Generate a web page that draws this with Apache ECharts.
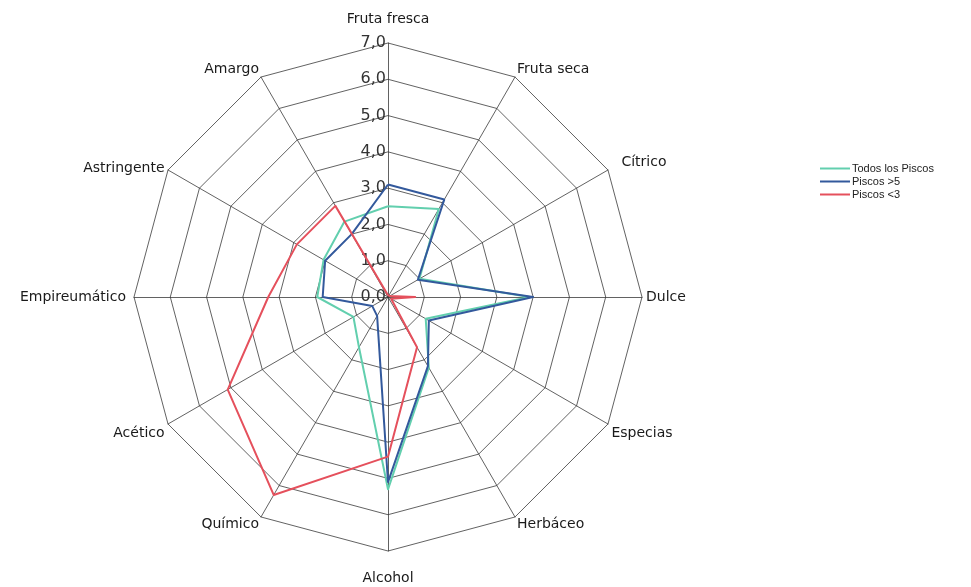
<!DOCTYPE html>
<html><head><meta charset="utf-8">
<script src="https://cdn.jsdelivr.net/npm/echarts@6/dist/echarts.min.js"></script>
<style>html,body{margin:0;padding:0;background:#fff}#c{width:971px;height:587px}</style>
</head><body><div id="c"></div>
<script>
// clockwise from top
const categories = ['Fruta fresca','Fruta seca','Cítrico','Dulce','Especias','Herbáceo','Alcohol','Químico','Acético','Empireumático','Astringente','Amargo'];
const todos   = [2.5, 2.8, 1.0, 3.9, 1.2, 2.25, 5.3, 1.6, 1.1, 1.95, 2.05, 2.4];
const mayor5  = [3.1, 3.1, 0.95, 4.0, 1.3, 2.2, 5.1, 0.6, 0.5, 1.8, 2.0, 2.0];
const menor3  = [0.05, 0.05, 0.05, 0.75, 0.1, 1.6, 4.4, 6.3, 5.1, 3.3, 2.9, 2.9];
const seriesNames = ['Todos los Piscos','Piscos >5','Piscos <3'];
const axisMax = 7;

// ECharts radar goes counter-clockwise: reorder
const order = [0].concat(categories.map((_, i) => i).slice(1).reverse());
const reorder = arr => order.map(i => arr[i]);

const indicator = reorder(categories).map((n, i) => {
  const o = { name: n, min: 0, max: axisMax };
  if (i === 0) o.axisLabel = { show: true };
  return o;
});

// label style key per category name
const nameKey = {
  'Fruta fresca': 't', 'Alcohol': 'b', 'Especias': 'l', 'Acético': 'l',
  'Fruta seca': 'u', 'Amargo': 'u', 'Químico': 'd', 'Herbáceo': 'd',
  'Cítrico': 'c', 'Empireumático': 'e'
};
const base = { fontFamily: 'DejaVu Sans', fontSize: 14, color: '#1a1a1a' };

const colors = ['#62cfae', '#33599c', '#e5505c'];
const chart = echarts.init(document.getElementById('c'));
chart.setOption({
  animation: false,
  legend: {
    orient: 'vertical', left: 815, top: 158, itemGap: 2,
    itemWidth: 30, itemHeight: 2, icon: 'rect',
    textStyle: { fontFamily: 'Liberation Sans, Arial', fontSize: 11, color: '#222', padding: [0, 0, 0, -3] },
    data: seriesNames
  },
  radar: {
    center: [388, 297], radius: 254, startAngle: 90,
    shape: 'polygon', splitNumber: 7,
    indicator: indicator,
    axisName: Object.assign({}, base, {
      formatter: n => nameKey[n] ? '{' + nameKey[n] + '|' + n + '}' : n,
      rich: {
        t: Object.assign({}, base, { padding: [0, 0, 13, 0] }),
        b: Object.assign({}, base, { padding: [16, 0, 0, 0] }),
        l: Object.assign({}, base, { padding: [14, 0, 0, 0] }),
        u: Object.assign({}, base, { padding: [0, 0, 8, 0] }),
        d: Object.assign({}, base, { padding: [8, 0, 0, 0] }),
        c: Object.assign({}, base, { padding: [0, 0, 12, 10] }),
        e: Object.assign({}, base, { padding: [0, 4, 0, 0] })
      }
    }),
    nameGap: 4,
    axisLine: { lineStyle: { color: '#3a3a3a', width: 0.8 } },
    splitLine: { lineStyle: { color: '#3a3a3a', width: 0.8 } },
    splitArea: { show: false },
    axisTick: { show: false },
    axisLabel: {
      show: false, color: '#333', fontFamily: 'DejaVu Sans', fontSize: 16,
      formatter: v => v.toFixed(1).replace('.', ','), margin: 2
    }
  },
  series: [{
    type: 'radar', symbol: 'none',
    data: [todos, mayor5, menor3].map((d, i) => ({
      name: seriesNames[i], value: reorder(d),
      lineStyle: { color: colors[i], width: 2 }, itemStyle: { color: colors[i] }
    }))
  }]
});
</script></body></html>
